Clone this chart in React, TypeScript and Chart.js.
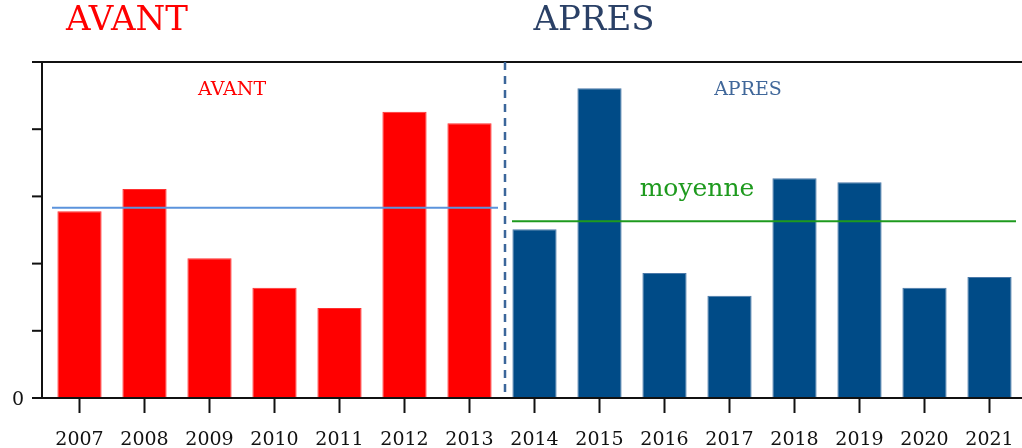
import React, { useEffect, useRef } from "react";
import { Chart, registerables } from "chart.js";

Chart.register(...registerables);

const years = ["2007", "2008", "2009", "2010", "2011", "2012", "2013", "2014", "2015", "2016", "2017", "2018", "2019", "2020", "2021"];
const values = [2.78, 3.11, 2.08, 1.64, 1.34, 4.26, 4.09, 2.51, 4.61, 1.86, 1.52, 3.27, 3.21, 1.64, 1.8];
const periodSplit = 7; // first 7 years = AVANT
const meanAvant = 2.83;
const meanApres = 2.63;
const yTicks = [0, 1, 2, 3, 4, 5];
const yMax = 5;

const RED = "#ff0000";
const BLUE = "#004b87";
const SERIF = "'DejaVu Serif', 'Liberation Serif', serif";

const overlay = {
  id: "overlay",
  afterDatasetsDraw(chart: any) {
    const { ctx, chartArea } = chart;
    const y = chart.scales.y;
    const x = chart.scales.x;
    const axisX = 42;
    ctx.save();
    ctx.strokeStyle = "#111";
    ctx.lineWidth = 2;
    // top line
    ctx.beginPath();
    ctx.moveTo(axisX - 10, chartArea.top);
    ctx.lineTo(chart.width, chartArea.top);
    ctx.stroke();
    // y axis line
    ctx.beginPath();
    ctx.moveTo(axisX, chartArea.top);
    ctx.lineTo(axisX, chartArea.bottom);
    ctx.stroke();
    // x axis line
    ctx.beginPath();
    ctx.moveTo(axisX - 10, chartArea.bottom);
    ctx.lineTo(chart.width, chartArea.bottom);
    ctx.stroke();
    // y ticks
    yTicks.forEach((v) => {
      const py = y.getPixelForValue(v);
      ctx.beginPath();
      ctx.moveTo(axisX - 10, py);
      ctx.lineTo(axisX, py);
      ctx.stroke();
    });
    ctx.fillStyle = "#111";
    ctx.font = `19px ${SERIF}`;
    ctx.textAlign = "center";
    ctx.textBaseline = "middle";
    ctx.fillText("0", 18, y.getPixelForValue(0) + 2);

    // split dashed line
    const splitX = (x.getPixelForValue(periodSplit - 1) + x.getPixelForValue(periodSplit)) / 2 + 3;
    ctx.strokeStyle = "#3b669a";
    ctx.lineWidth = 2.5;
    ctx.setLineDash([8, 6]);
    ctx.beginPath();
    ctx.moveTo(splitX, chartArea.top);
    ctx.lineTo(splitX, chartArea.bottom);
    ctx.stroke();
    ctx.setLineDash([]);

    // mean lines
    ctx.lineWidth = 2;
    ctx.strokeStyle = "#5b93dc";
    const ya = y.getPixelForValue(meanAvant);
    ctx.beginPath();
    ctx.moveTo(52, ya);
    ctx.lineTo(splitX - 7, ya);
    ctx.stroke();
    ctx.strokeStyle = "#1e9a1e";
    const yb = y.getPixelForValue(meanApres);
    ctx.beginPath();
    ctx.moveTo(splitX + 7, yb);
    ctx.lineTo(chartArea.right - 6, yb);
    ctx.stroke();

    // texts
    ctx.textAlign = "center";
    ctx.textBaseline = "middle";
    ctx.fillStyle = RED;
    ctx.font = `34px ${SERIF}`;
    ctx.fillText("AVANT", 127, 21);
    ctx.fillStyle = "#2a4066";
    ctx.fillText("APRES", 594, 21);
    ctx.font = `19px ${SERIF}`;
    ctx.fillStyle = RED;
    ctx.fillText("AVANT", 232, 90);
    ctx.fillStyle = "#40679a";
    ctx.fillText("APRES", 748, 90);
    ctx.font = `25px ${SERIF}`;
    ctx.fillStyle = "#1e9a1e";
    ctx.fillText("moyenne", 697, 189);
    ctx.restore();
  },
};

export default function App() {
  const ref = useRef<HTMLCanvasElement>(null);
  useEffect(() => {
    document.body.style.margin = "0";
    const canvas = ref.current!;
    const chart = new Chart(canvas, {
      type: "bar",
      data: {
        labels: years,
        datasets: [
          {
            data: values,
            backgroundColor: values.map((_, i) => (i < periodSplit ? RED : BLUE)),
            borderColor: values.map((_, i) => (i < periodSplit ? "#ff3030" : "#4a78a8")),
            borderWidth: 1,
            barPercentage: 0.68,
            categoryPercentage: 1,
          },
        ],
      },
      options: {
        animation: false,
        responsive: false,
        maintainAspectRatio: false,
        layout: { padding: { left: 47, right: 0, top: 62, bottom: 0 } },
        plugins: { legend: { display: false }, tooltip: { enabled: false } },
        scales: {
          x: {
            offset: true,
            border: { display: false },
            grid: {
              display: true,
              drawOnChartArea: false,
              drawTicks: true,
              tickLength: 15,
              tickColor: "#111",
              tickWidth: 2,
              offset: false,
            },
            ticks: {
              color: "#111",
              font: { family: SERIF, size: 19 },
              padding: 16,
              maxRotation: 0,
              autoSkip: false,
            },
            afterFit: (s: any) => {
              s.height = 50;
              s.paddingLeft = 0;
              s.paddingRight = 0;
            },
          },
          y: {
            display: false,
            min: 0,
            max: yMax,
          },
        },
      },
      plugins: [overlay],
    });
    return () => chart.destroy();
  }, []);
  return (
    <div style={{ width: 1022, height: 448 }}>
      <canvas ref={ref} width={1022} height={448} style={{ display: "block" }} />
    </div>
  );
}
